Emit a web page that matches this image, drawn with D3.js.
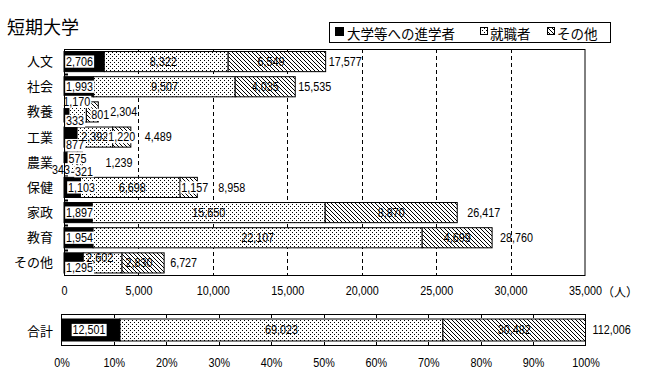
<!DOCTYPE html>
<html><head><meta charset="utf-8">
<script src="https://cdn.jsdelivr.net/npm/d3@7"></script>
<style>
body{margin:0;background:#fff;}
svg{display:block;}
.num{font-family:"Liberation Sans",Arial,sans-serif;font-size:13px;fill:#000;}
.jp{font-family:"Noto Sans CJK JP","Noto Sans CJK SC",sans-serif;fill:#000;}
</style></head>
<body>
<script>
// ---- data ----
const categories = ["人文","社会","教養","工業","農業","保健","家政","教育","その他"];
const advancing  = [2706, 1993, 333, 877, 343, 1103, 1897, 1954, 1295];
const employed   = [8322, 9507, 1170, 2392, 575, 6698, 15650, 22107, 2602];
const others     = [6549, 4035, 801, 1220, 321, 1157, 8870, 4699, 2830];
const totals     = [17577, 15535, 2304, 4489, 1239, 8958, 26417, 28760, 6727];
const seriesNames = ["大学等への進学者","就職者","その他"];
const summaryLabel = "合計";
const summaryValues = [12501, 69023, 30482];
const summaryTotal = 112006;
const countTicks = [0,5000,10000,15000,20000,25000,30000,35000];
const percentTicks = [0,10,20,30,40,50,60,70,80,90,100];
const titleText = "短期大学";
const unitText = "（人）";

// ---- label layout nudges (pixels) ----
const segNudge = [
  [[0,0],[-3,0],[-6,0]],
  [[0,0],[0,0],[0,0]],
  [[0,9],[-1,-10],[8,3]],
  [[0,8],[0,0],[0,0]],
  [[-14,7],[4,-4],[4,9]],
  [[2,0],[2,0],[6,0]],
  [[0,0],[0,0],[0,0]],
  [[0,0],[0,0],[0,0]],
  [[0,5],[-3,-5],[-4,0]]
];
const totalNudge = [3,3,12,14,23,21,10,8,6];
const SX = 0.83; // horizontal condensing of numeric text

const W=646,H=373;
const svg=d3.select("body").append("svg").attr("width",W).attr("height",H);
const defs=svg.append("defs");
const pd=defs.append("pattern").attr("id","dots").attr("patternUnits","userSpaceOnUse").attr("width",4).attr("height",4);
pd.append("rect").attr("width",4).attr("height",4).attr("fill","#fff");
[[0,0],[2,2]].forEach(p=>pd.append("rect").attr("x",p[0]).attr("y",p[1]).attr("width",1).attr("height",1).attr("fill","#000"));
const ph=defs.append("pattern").attr("id","hatch").attr("patternUnits","userSpaceOnUse").attr("width",4).attr("height",4);
ph.append("rect").attr("width",4).attr("height",4).attr("fill","#fff");
[0,1,2,3].forEach(i=>ph.append("rect").attr("x",i).attr("y",i).attr("width",1).attr("height",1).attr("fill","#000"));
const fills=["#000","url(#dots)","url(#hatch)"];

const fmt=d3.format(",");

// title
svg.append("text").attr("class","jp").attr("x",7).attr("y",26).attr("dominant-baseline","central")
  .style("font-size","18px").text(titleText);

// legend
const lg=svg.append("g");
lg.append("rect").attr("x",329.5).attr("y",22.5).attr("width",281).attr("height",20).attr("fill","#fff").attr("stroke","#000");
const legX=[335,480,547];
seriesNames.forEach((n,i)=>{
  lg.append("rect").attr("x",legX[i]+ (i?0.5:0)).attr("y",i?27.5:27).attr("width",i?7:9).attr("height",i?7:9)
    .attr("fill",fills[i]).attr("stroke",i?"#000":"none").attr("shape-rendering","crispEdges");
  lg.append("text").attr("class","jp").attr("x",legX[i]+(i?10:12)).attr("y",32.5).attr("dominant-baseline","central")
    .style("font-size","13.5px").text(n);
});

// scales
const x=d3.scaleLinear().domain([0,35000]).range([64,585]);
const y=d3.scaleBand().domain(categories).range([49,275.5]).paddingInner(0.2).paddingOuter(0.1);
const bw=y.bandwidth(), step=y.step();

// grid
const plot=svg.append("g");
plot.selectAll("line.grid").data(countTicks.slice(1,-1)).join("line")
  .attr("x1",d=>Math.round(x(d))+0.5).attr("x2",d=>Math.round(x(d))+0.5)
  .attr("y1",49).attr("y2",275.5).attr("stroke","#000").attr("stroke-dasharray","4,3");
// left inner ticks at band boundaries
plot.selectAll("line.lt").data(categories.slice(1)).join("line")
  .attr("x1",64).attr("x2",68).attr("y1",d=>Math.round(y(d)-step*0.1)+0.5).attr("y2",d=>Math.round(y(d)-step*0.1)+0.5)
  .attr("stroke","#000").attr("stroke-width",2);

// stacked bars
const rows=categories.map((c,i)=>({cat:c,a:advancing[i],e:employed[i],o:others[i]}));
const stack=d3.stack().keys(["a","e","o"])(rows);
stack.forEach((layer,k)=>{
  plot.selectAll("rect.s"+k).data(layer).join("rect")
    .attr("x",d=>x(d[0])).attr("width",d=>x(d[1])-x(d[0]))
    .attr("y",d=>y(d.data.cat)).attr("height",bw)
    .attr("fill",fills[k]).attr("stroke","#000").attr("stroke-width",1);
});

// labels
function addLabel(g,tx,ty,anchor,txt,box){
  const gg=g.append("g").attr("transform",`translate(${tx},${ty}) scale(${SX},1)`);
  const t=gg.append("text").attr("class","num").attr("x",0).attr("y",0)
    .attr("text-anchor",anchor).attr("dominant-baseline","central").text(txt);
  if(box){
    const b=t.node().getBBox();
    gg.insert("rect",()=>t.node()).attr("x",b.x-1).attr("y",b.y+1.5).attr("width",b.width+2).attr("height",b.height-3).attr("fill","#fff");
  }
}
const lab=svg.append("g");
stack.forEach((layer,k)=>{
  layer.forEach((d,i)=>{
    const cy=y(d.data.cat)+bw/2;
    const [dx,dy]=segNudge[i][k];
    const v=d[1]-d[0];
    const w=x(d[1])-x(d[0]);
    if(k===0){
      addLabel(lab,x(0)+2+dx,cy+dy,"start",fmt(v),true);
    } else {
      addLabel(lab,(x(d[0])+x(d[1]))/2+dx,cy+dy,"middle",fmt(v),w<22);
    }
  });
});
totals.forEach((t,i)=>{
  addLabel(lab,x(t)+totalNudge[i],y(categories[i])+bw/2,"start",fmt(t),false);
});

// frame
svg.append("rect").attr("x",64.5).attr("y",49.5).attr("width",520.5).attr("height",226).attr("fill","none").attr("stroke","#000");

// category labels
svg.selectAll("text.cat").data(categories).join("text").attr("class","jp")
  .attr("x",53).attr("y",d=>y(d)+bw/2-1).attr("text-anchor","end").attr("dominant-baseline","central")
  .style("font-size","13px").text(d=>d);

// count axis labels
const ax=svg.append("g").attr("transform","translate(0,285)")
  .call(d3.axisBottom(x).tickValues(countTicks).tickFormat(fmt).tickSize(0).tickPadding(0));
ax.select(".domain").remove();
ax.selectAll("text").attr("class","num").attr("font-family",null).attr("font-size",null)
  .attr("dy",null).attr("dominant-baseline","central").attr("y",6).attr("transform",`scale(${SX},1)`);
svg.append("text").attr("class","jp").attr("x",602).attr("y",291).attr("dominant-baseline","central")
  .style("font-size","12px").text(unitText);

// summary panel
const p=d3.scaleLinear().domain([0,100]).range([61.5,585.5]);
const sTop=314, sBot=346, bTop=319, bBot=341;
const sRow=[{a:summaryValues[0]/summaryTotal*100,e:summaryValues[1]/summaryTotal*100,o:summaryValues[2]/summaryTotal*100}];
const sStack=d3.stack().keys(["a","e","o"])(sRow);
const sg=svg.append("g");
sStack.forEach((layer,k)=>{
  const d=layer[0];
  sg.append("rect").attr("x",p(d[0])).attr("width",p(d[1])-p(d[0])).attr("y",bTop).attr("height",bBot-bTop)
    .attr("fill",fills[k]).attr("stroke","#000");
});
sg.append("rect").attr("x",61.5).attr("y",sTop+0.5).attr("width",524).attr("height",sBot-sTop-1).attr("fill","none").attr("stroke","#000");
sg.selectAll("line.tt").data(percentTicks.slice(1,-1)).join("line")
  .attr("x1",d=>Math.round(p(d))+0.5).attr("x2",d=>Math.round(p(d))+0.5).attr("y1",sTop).attr("y2",sTop+4).attr("stroke","#000");
sg.selectAll("line.tb").data(percentTicks.slice(1,-1)).join("line")
  .attr("x1",d=>Math.round(p(d))+0.5).attr("x2",d=>Math.round(p(d))+0.5).attr("y1",sBot).attr("y2",sBot-4).attr("stroke","#000");
sStack.forEach((layer,k)=>{
  const d=layer[0];
  const cy=(bTop+bBot)/2;
  if(k===0) addLabel(sg,p(0)+11,cy,"start",fmt(summaryValues[k]),true);
  else addLabel(sg,(p(d[0])+p(d[1]))/2,cy,"middle",fmt(summaryValues[k]),false);
});
addLabel(sg,p(100)+7,(bTop+bBot)/2,"start",fmt(summaryTotal),false);
svg.append("text").attr("class","jp").attr("x",53).attr("y",330).attr("text-anchor","end").attr("dominant-baseline","central")
  .style("font-size","13px").text(summaryLabel);
const pax=svg.append("g").attr("transform","translate(0,357)")
  .call(d3.axisBottom(p).tickValues(percentTicks).tickFormat(d=>d+"%").tickSize(0).tickPadding(0));
pax.select(".domain").remove();
pax.selectAll("text").attr("class","num").attr("font-family",null).attr("font-size",null)
  .attr("dy",null).attr("dominant-baseline","central").attr("y",6).attr("transform",`scale(${SX},1)`);
</script>
</body></html>
